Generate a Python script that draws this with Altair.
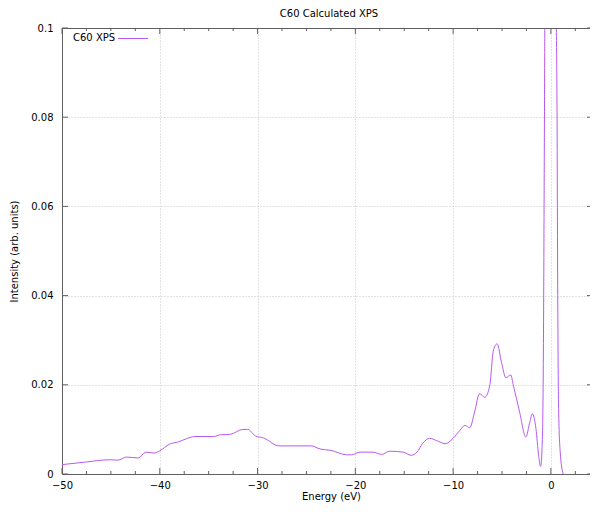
import altair as alt
import pandas as pd

# ---- data ----
energy = [-50, -47.5, -45.1, -44.3, -43.4, -42.2, -41.4, -40.6, -40, -39, -38.1, -37.4,
          -36.4, -34.5, -33.8, -32.8, -31.5, -31.0, -30.2, -29.4, -27.8, -26.4, -24.5,
          -23.6, -22.5, -20.9, -20.4, -19.5, -18.2, -17.3, -16.5, -15.1, -14.3, -13.7,
          -13.1, -12.4, -11.7, -10.8, -10.0, -9.3, -8.8, -8.3, -7.8, -7.3, -6.75, -6.24,
          -5.9, -5.5, -5.05, -4.6, -4.1, -3.85, -3.2, -2.56, -2.15, -1.9, -1.53, -1.26,
          -1.05, -0.92, -0.8, -0.6, 0.0, 0.56, 0.62, 0.7, 0.78, 0.95, 1.25]
intensity = [0.0021, 0.0027, 0.0032, 0.0031, 0.0038, 0.0036, 0.0049, 0.0047, 0.0052, 0.0067,
             0.0072, 0.0078, 0.0084, 0.0084, 0.0088, 0.0089, 0.0100, 0.0100, 0.0085, 0.0081,
             0.0063, 0.0063, 0.0063, 0.0056, 0.0053, 0.0043, 0.0043, 0.0049, 0.0049, 0.0044,
             0.0051, 0.0049, 0.0042, 0.0049, 0.0069, 0.0080, 0.0075, 0.0068, 0.0080, 0.0098,
             0.0109, 0.0104, 0.0139, 0.0180, 0.0172, 0.0200, 0.0275, 0.0292, 0.0250, 0.0216,
             0.0222, 0.0200, 0.0139, 0.0083, 0.0117, 0.0135, 0.0102, 0.0043, 0.0017, 0.0050,
             0.0180, 0.1100, 0.4000, 0.1000, 0.0850, 0.0400, 0.0160, 0.0050, 0.0]

x_major = [-50, -40, -30, -20, -10, 0]
x_minor = [-47.5, -45, -42.5, -37.5, -35, -32.5, -27.5, -25, -22.5, -17.5, -15, -12.5,
           -7.5, -5, -2.5, 2.5]
y_major = [0, 0.02, 0.04, 0.06, 0.08, 0.1]

chart_title = "C60 Calculated XPS"
series_name = "C60 XPS"
x_title = "Energy (eV)"
y_title = "Intensity (arb. units)"

PURPLE = "#b85aec"
BORDER = "#606060"
FONT = "DejaVu Sans"

W, H = 528, 446

df = pd.DataFrame({"energy": energy, "intensity": intensity})
df_xmaj = pd.DataFrame({"t": x_major})
df_xmin = pd.DataFrame({"t": x_minor})
df_ymaj = pd.DataFrame({"t": y_major})
df_one = pd.DataFrame({"name": [series_name], "title": [chart_title]})

xscale = alt.Scale(domain=[-50, 4.0], nice=False, zero=False)
yscale = alt.Scale(domain=[0, 0.1], nice=False, zero=False)

line = alt.Chart(df).mark_line(clip=True, color=PURPLE, strokeWidth=1,
                               interpolate="monotone").encode(
    x=alt.X("energy:Q", scale=xscale,
            axis=alt.Axis(values=x_major, title=x_title, grid=True, gridDash=[1, 2],
                          gridColor="#c4c4c4", tickSize=0, labelPadding=6,
                          domainColor=BORDER, labelFont=FONT, labelFontSize=10,
                          labelColor="black", titleFont=FONT, titleFontSize=10,
                          titleFontWeight="normal", titleColor="black",
                          titleBaseline="middle", titleAlign="center",
                          titleX=269, titleY=22, labelFlush=False)),
    y=alt.Y("intensity:Q", scale=yscale,
            axis=alt.Axis(values=y_major, format=".2~f", title=y_title, grid=True,
                          gridDash=[1, 2], gridColor="#c4c4c4", tickSize=0,
                          labelPadding=9, domainColor=BORDER, labelFont=FONT,
                          labelFontSize=10, labelColor="black", titleFont=FONT,
                          titleFontSize=10, titleFontWeight="normal", titleColor="black",
                          titleBaseline="middle", titleX=-48, titleY=H / 2,
                          labelFlush=False)),
)

top_border = alt.Chart(df_one).mark_rule(color=BORDER, strokeWidth=1).encode(
    x=alt.value(0), x2=alt.value(W), y=alt.value(0.5))

xmaj_bot = alt.Chart(df_xmaj).mark_rule(color=BORDER).encode(
    x=alt.X("t:Q", scale=xscale), y=alt.value(H), y2=alt.value(H - 6))
xmaj_top = alt.Chart(df_xmaj).mark_rule(color=BORDER).encode(
    x=alt.X("t:Q", scale=xscale), y=alt.value(0), y2=alt.value(6))
xmin_bot = alt.Chart(df_xmin).mark_rule(color=BORDER).encode(
    x=alt.X("t:Q", scale=xscale), y=alt.value(H), y2=alt.value(H - 3))
xmin_top = alt.Chart(df_xmin).mark_rule(color=BORDER).encode(
    x=alt.X("t:Q", scale=xscale), y=alt.value(0), y2=alt.value(3))
ymaj_left = alt.Chart(df_ymaj).mark_rule(color=BORDER).encode(
    y=alt.Y("t:Q", scale=yscale), x=alt.value(0), x2=alt.value(6))
ymaj_right = alt.Chart(df_ymaj).mark_rule(color=BORDER).encode(
    y=alt.Y("t:Q", scale=yscale), x=alt.value(W - 3), x2=alt.value(W))

title_text = alt.Chart(df_one).mark_text(
    align="center", baseline="middle", font=FONT, fontSize=10, color="black").encode(
    text="title:N", x=alt.value(267), y=alt.value(-14))

legend_text = alt.Chart(df_one).mark_text(
    align="left", baseline="middle", font=FONT, fontSize=10, color="black").encode(
    text="name:N", x=alt.value(11), y=alt.value(10))
legend_line = alt.Chart(df_one).mark_rule(
    color=PURPLE, strokeWidth=1).encode(x=alt.value(56), x2=alt.value(86), y=alt.value(10.5))

chart = alt.layer(
    line, top_border, xmaj_bot, xmaj_top, xmin_bot, xmin_top, ymaj_left, ymaj_right,
    title_text, legend_text, legend_line
).properties(
    width=W, height=H,
    padding={"left": 54, "top": 20, "right": 0, "bottom": 30},
    autosize=alt.AutoSizeParams(type="none"),
).configure_view(stroke=None).configure(background="white")

chart.save("out.html", embed_options={"renderer": "svg", "actions": False})
